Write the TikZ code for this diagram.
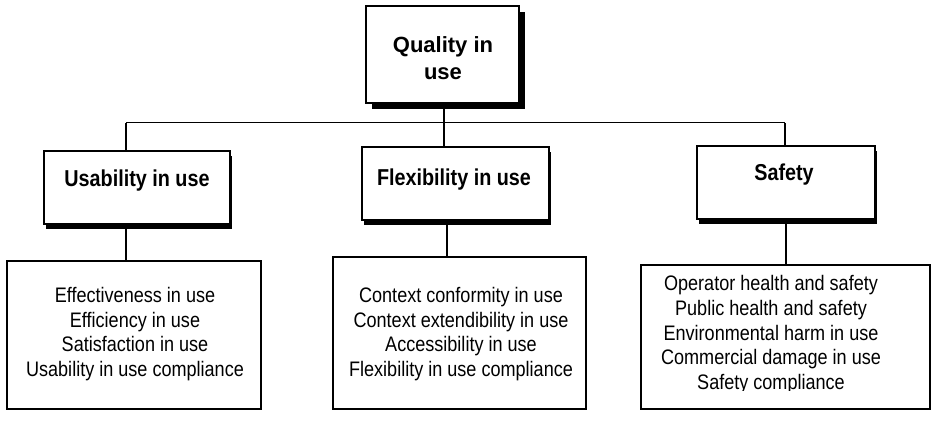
\documentclass[tikz,border=0pt]{standalone}
\usepackage{fontspec}
\setmainfont{Liberation Sans}
\newfontfamily\narrowfont{Liberation Sans}[FakeStretch=0.86]
\usetikzlibrary{shadows}
\tikzset{
  box/.style={draw=black, line width=1.8pt, fill=white, inner sep=0pt},
  topbox/.style={box, drop shadow={shadow xshift=6pt, shadow yshift=-6pt, opacity=1, fill=black}},
  midbox/.style={box, drop shadow={shadow xshift=2pt, shadow yshift=-5pt, opacity=1, fill=black}},
  toptext/.style={align=center, inner sep=0pt, font=\bfseries\fontsize{22}{27}\selectfont},
  midtext/.style={inner sep=0pt, font=\narrowfont\bfseries\fontsize{23}{27}\selectfont},
  lowtext/.style={align=center, inner sep=0pt, font=\narrowfont\fontsize{21}{24.7}\selectfont},
  conn/.style={line width=1.6pt},
  hconn/.style={line width=1pt},
}
\begin{document}
\begin{tikzpicture}[x=1pt,y=-1pt]
\fill[white] (0,0) rectangle (950,430);
\useasboundingbox (0,0) rectangle (950,430);
% boxes
\node[topbox, minimum width=153pt, minimum height=97pt] (top) at (442.5,54.5) {};
\node[toptext, anchor=base] (toptxt) at (443,80) {Quality in\\use};
\node[midbox, minimum width=186pt, minimum height=73pt] (use) at (137,187.5) {};
\node[midtext, anchor=base] (usetxt) at (137,187) {Usability in use};
\node[midbox, minimum width=187pt, minimum height=73pt] (flex) at (455.5,183.5) {};
\node[midtext, anchor=base] (flextxt) at (454,186) {Flexibility in use};
\node[midbox, minimum width=178pt, minimum height=73pt] (safe) at (786,182.5) {};
\node[midtext, anchor=base] (safetxt) at (784,181) {Safety};
\node[box, minimum width=254pt, minimum height=148pt] (lowuse) at (134,335) {};
\node[lowtext, anchor=base] (lowusetxt) at (135,376.5) {Effectiveness in use\\Efficiency in use\\Satisfaction in use\\Usability in use compliance};
\node[box, minimum width=253pt, minimum height=152pt] (lowflex) at (459.5,333) {};
\node[lowtext, anchor=base] (lowflextxt) at (461,376.5) {Context conformity in use\\Context extendibility in use\\Accessibility in use\\Flexibility in use compliance};
\node[box, minimum width=289pt, minimum height=144pt] (lowsafe) at (785.5,337) {};
\begin{scope}
\clip (641,265) rectangle (930,390.5);
\node[lowtext, anchor=base] (lowsafetxt) at (771,389.5) {Operator health and safety\\Public health and safety\\Environmental harm in use\\Commercial damage in use\\Safety compliance};
\end{scope}
% connectors
\coordinate (hl) at (126,123);
\coordinate (hr) at (785,123);
\coordinate (tx) at (444,0);
\coordinate (fx) at (447,0);
\coordinate (sx) at (786,0);
\draw[hconn] (hl) -- (hr);
\draw[conn] (top.south -| tx) -- (flex.north -| tx);
\draw[conn] (hl) -- (hl |- use.north);
\draw[conn] (hr) -- (hr |- safe.north);
\draw[conn] (use.south -| hl) -- (lowuse.north -| hl);
\draw[conn] (flex.south -| fx) -- (lowflex.north -| fx);
\draw[conn] (safe.south -| sx) -- (lowsafe.north -| sx);
\end{tikzpicture}
\end{document}
